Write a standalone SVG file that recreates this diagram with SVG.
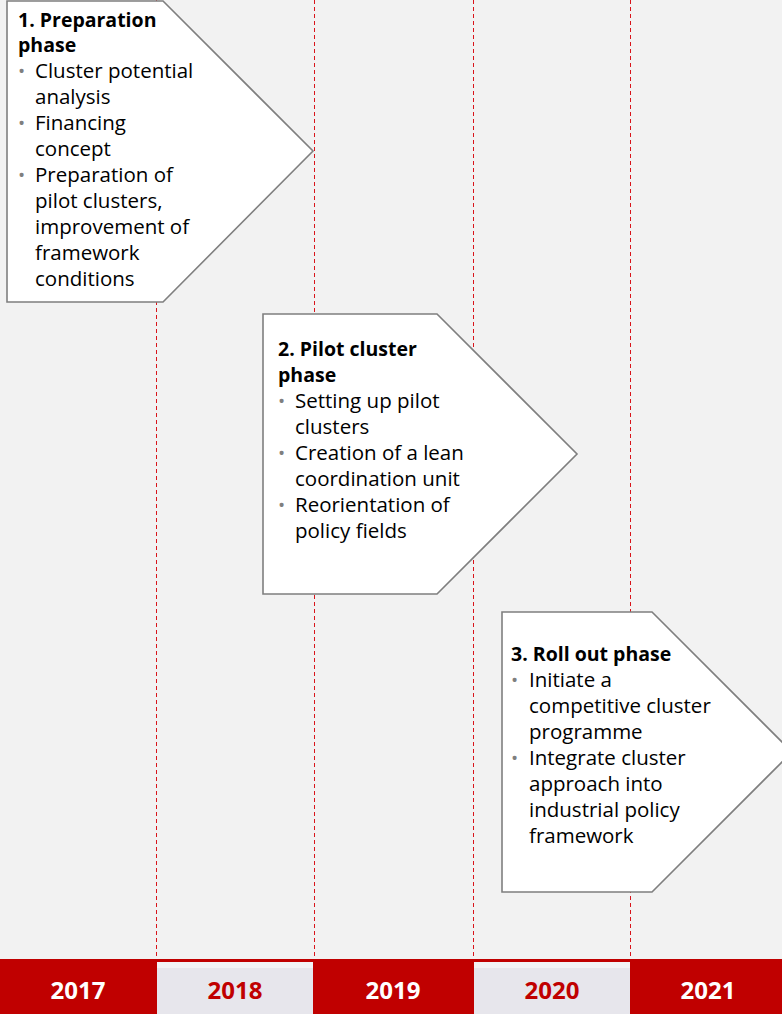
<svg xmlns="http://www.w3.org/2000/svg" width="782" height="1014" viewBox="0 0 782 1014">
<defs>
<style>
.grid{stroke:#d9141b;stroke-width:1;stroke-dasharray:4 3;fill:none}
.box{fill:#ffffff;stroke:#7f7f7f;stroke-width:1.6}
.t{font-family:"Open Sans","Liberation Sans",sans-serif;font-size:20.5px;fill:#000}
.h{font-family:"Open Sans","Liberation Sans",sans-serif;font-size:19.5px;font-weight:bold;fill:#000}
.b{font-family:"Open Sans","Liberation Sans",sans-serif;font-size:19px;fill:#7f7f7f}
.y{font-family:"Open Sans","Liberation Sans",sans-serif;font-size:24px;font-weight:bold;text-anchor:middle}
</style>
</defs>
<rect x="0" y="0" width="782" height="1014" fill="#f2f2f2"/>
<g id="connectors">
<line class="grid" x1="156.5" y1="0" x2="156.5" y2="959"/>
<line class="grid" x1="314.5" y1="0" x2="314.5" y2="959"/>
<line class="grid" x1="473.5" y1="0" x2="473.5" y2="959"/>
<line class="grid" x1="630.5" y1="0" x2="630.5" y2="959"/>
</g>
<g id="timeline">
<rect x="0" y="959" width="782" height="55" fill="#c00000"/>
<rect x="157" y="962" width="156" height="52" fill="#e7e6ec"/>
<rect x="157" y="962" width="156" height="6" fill="#f3f3f5"/>
<rect x="474" y="962" width="156" height="52" fill="#e7e6ec"/>
<rect x="474" y="962" width="156" height="6" fill="#f3f3f5"/>
<text class="y" x="78" y="999" fill="#ffffff">2017</text>
<text class="y" x="235" y="999" fill="#c00000">2018</text>
<text class="y" x="393" y="999" fill="#ffffff">2019</text>
<text class="y" x="552" y="999" fill="#c00000">2020</text>
<text class="y" x="708" y="999" fill="#ffffff">2021</text>
</g>
<g id="phase1">
<polygon class="box" points="7,1 163,1 313,151 163,302 7,302"/>
<text class="h" x="18" y="27">1. Preparation</text>
<text class="h" x="18" y="52">phase</text>
<text class="b" x="18" y="78">•</text>
<text class="t" x="35" y="78">Cluster potential</text>
<text class="t" x="35" y="104">analysis</text>
<text class="b" x="18" y="130">•</text>
<text class="t" x="35" y="130">Financing</text>
<text class="t" x="35" y="156">concept</text>
<text class="b" x="18" y="182">•</text>
<text class="t" x="35" y="182">Preparation of</text>
<text class="t" x="35" y="208">pilot clusters,</text>
<text class="t" x="35" y="234">improvement of</text>
<text class="t" x="35" y="260">framework</text>
<text class="t" x="35" y="286">conditions</text>
</g>
<g id="phase2">
<polygon class="box" points="263,314 437,314 577,454 437,594 263,594"/>
<text class="h" x="278" y="356">2. Pilot cluster</text>
<text class="h" x="278" y="382">phase</text>
<text class="b" x="278" y="408">•</text>
<text class="t" x="295" y="408">Setting up pilot</text>
<text class="t" x="295" y="434">clusters</text>
<text class="b" x="278" y="460">•</text>
<text class="t" x="295" y="460">Creation of a lean</text>
<text class="t" x="295" y="486">coordination unit</text>
<text class="b" x="278" y="512">•</text>
<text class="t" x="295" y="512">Reorientation of</text>
<text class="t" x="295" y="538">policy fields</text>
</g>
<g id="phase3">
<polygon class="box" points="502,612 652,612 792,752 652,892 502,892"/>
<text class="h" x="511" y="661">3. Roll out phase</text>
<text class="b" x="511" y="687">•</text>
<text class="t" x="529" y="687">Initiate a</text>
<text class="t" x="529" y="713">competitive cluster</text>
<text class="t" x="529" y="739">programme</text>
<text class="b" x="511" y="765">•</text>
<text class="t" x="529" y="765">Integrate cluster</text>
<text class="t" x="529" y="791">approach into</text>
<text class="t" x="529" y="817">industrial policy</text>
<text class="t" x="529" y="843">framework</text>
</g>
</svg>
